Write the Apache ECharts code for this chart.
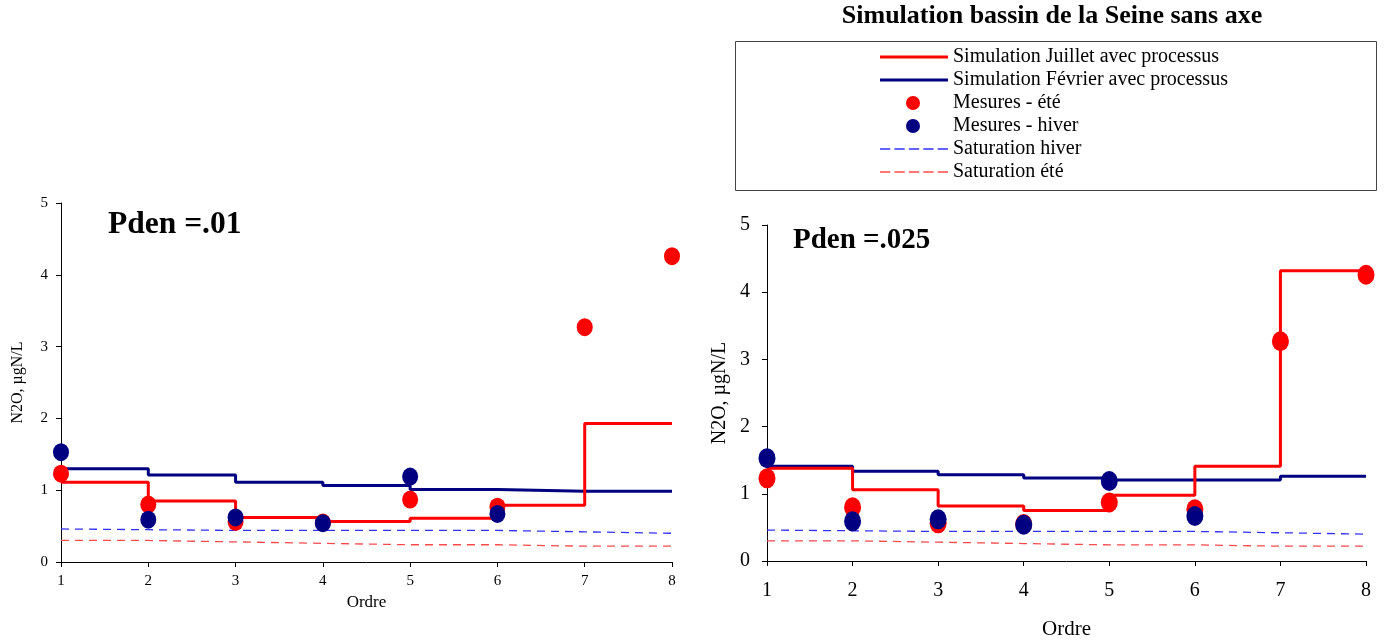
<!DOCTYPE html>
<html>
<head>
<meta charset="utf-8">
<script src="https://cdn.jsdelivr.net/npm/echarts@6/dist/echarts.min.js"></script>
<style>html,body{margin:0;padding:0;background:#fff}#c{width:1386px;height:640px}</style>
</head>
<body>
<div id="c"></div>
<script>
const ordre = [1, 2, 3, 4, 5, 6, 7, 8];
const juillet01 = [1.11, 0.85, 0.62, 0.565, 0.61, 0.79, 1.93, 1.93];
const fevrier01 = [1.30, 1.21, 1.11, 1.065, 1.01, 0.985, 0.985, 0.985];
const juillet025 = [1.38, 1.06, 0.82, 0.75, 0.98, 1.41, 4.32, 4.32];
const fevrier025 = [1.41, 1.335, 1.285, 1.235, 1.205, 1.205, 1.26, 1.26];
const mesuresEte = [1.23, 0.80, 0.56, 0.55, 0.87, 0.77, 3.27, 4.26];
const mesuresHiver = [1.53, 0.59, 0.62, 0.54, 1.19, 0.67, null, null];
const satHiver = [0.46, 0.45, 0.44, 0.44, 0.44, 0.44, 0.42, 0.40];
const satEte = [0.30, 0.30, 0.28, 0.26, 0.24, 0.24, 0.22, 0.22];
const yTicks = [0, 1, 2, 3, 4, 5];

const N_J = 'Simulation Juillet avec processus';
const N_F = 'Simulation Février avec processus';
const N_ME = 'Mesures - été';
const N_MH = 'Mesures - hiver';
const N_SH = 'Saturation hiver';
const N_SE = 'Saturation été';

const FONT = "'Liberation Serif', 'Times New Roman', serif";
const pairs = arr => ordre.map((x, i) => [x, arr[i]]).filter(p => p[1] !== null);

const C_RED = '#ff0000', C_NAVY = '#000080', C_BLUE_D = '#3030ff', C_RED_D = '#ff4a4a';

function xAxisDef(gi, fs, margin, nameGap, nameFs) {
  return {
    type: 'value', gridIndex: gi, min: ordre[0], max: ordre[ordre.length - 1], interval: 1,
    name: 'Ordre', nameLocation: 'middle', nameGap: nameGap,
    nameTextStyle: {fontFamily: FONT, fontSize: nameFs, color: '#000'},
    axisLine: {lineStyle: {color: '#000', width: 1}},
    axisTick: {show: true, length: 5, lineStyle: {color: '#000'}},
    axisLabel: {fontFamily: FONT, fontSize: fs, color: '#000', margin: margin},
    splitLine: {show: false}
  };
}
function yAxisDef(gi, fs, margin, nameGap, nameFs) {
  return {
    type: 'value', gridIndex: gi, min: yTicks[0], max: yTicks[yTicks.length - 1], interval: 1,
    name: 'N2O, µgN/L', nameLocation: 'middle', nameGap: nameGap,
    nameTextStyle: {fontFamily: FONT, fontSize: nameFs, color: '#000'},
    axisLine: {show: true, lineStyle: {color: '#000', width: 1}},
    axisTick: {show: true, length: 5, lineStyle: {color: '#000'}},
    axisLabel: {fontFamily: FONT, fontSize: fs, color: '#000', margin: margin},
    splitLine: {show: false}
  };
}
function seriesFor(gi, jul, fev, dotSize) {
  return [
    {name: N_SH, type: 'line', xAxisIndex: gi, yAxisIndex: gi, data: pairs(satHiver), showSymbol: false, symbol: 'none',
      lineStyle: {color: C_BLUE_D, width: 1.3, type: [8, 6]}, itemStyle: {color: C_BLUE_D}, z: 2},
    {name: N_SE, type: 'line', xAxisIndex: gi, yAxisIndex: gi, data: pairs(satEte), showSymbol: false, symbol: 'none',
      lineStyle: {color: C_RED_D, width: 1.3, type: [8, 6]}, itemStyle: {color: C_RED_D}, z: 2},
    {name: N_F, type: 'line', step: 'end', xAxisIndex: gi, yAxisIndex: gi, data: pairs(fev), showSymbol: false, symbol: 'none',
      lineStyle: {color: C_NAVY, width: 3}, itemStyle: {color: C_NAVY}, z: 3},
    {name: N_J, type: 'line', step: 'end', xAxisIndex: gi, yAxisIndex: gi, data: pairs(jul), showSymbol: false, symbol: 'none',
      lineStyle: {color: C_RED, width: 3}, itemStyle: {color: C_RED}, z: 3},
    {name: N_ME, type: 'scatter', xAxisIndex: gi, yAxisIndex: gi, data: pairs(mesuresEte), symbol: 'circle', symbolSize: dotSize,
      itemStyle: {color: C_RED, opacity: 1}, z: 4},
    {name: N_MH, type: 'scatter', xAxisIndex: gi, yAxisIndex: gi, data: pairs(mesuresHiver), symbol: 'circle', symbolSize: dotSize,
      itemStyle: {color: C_NAVY, opacity: 1}, z: 5}
  ];
}

const dashPath = 'path://M0,0h10v2h-10zM14,0h10v2h-10zM28,0h10v2h-10zM42,0h10v2h-10zM56,0h10v2h-10z';
const legendRows = [
  {name: N_J, cy: 57, icon: 'rect', w: 68, h: 3, left: 880, pad: 0},
  {name: N_F, cy: 80, icon: 'rect', w: 68, h: 3, left: 880, pad: 0},
  {name: N_ME, cy: 103, icon: 'circle', w: 14, h: 17, left: 906, pad: 28},
  {name: N_MH, cy: 126, icon: 'circle', w: 14, h: 17, left: 906, pad: 28},
  {name: N_SH, cy: 149, icon: dashPath, w: 68, h: 1.5, left: 880, pad: 0},
  {name: N_SE, cy: 172, icon: dashPath, w: 68, h: 1.5, left: 880, pad: 0}
];
const legends = legendRows.map(r => ({
  data: [{name: r.name, icon: r.icon}],
  left: r.left, top: r.cy - 11, padding: 0, itemWidth: r.w, itemHeight: r.h,
  symbolKeepAspect: false,
  selectedMode: false,
  textStyle: {fontFamily: FONT, fontSize: 20, color: '#000', padding: [0, 0, 0, r.pad], lineHeight: 22, height: 22}
}));

const chart = echarts.init(document.getElementById('c'), null, {renderer: 'canvas'});
chart.setOption({
  animation: false,
  backgroundColor: '#fff',
  title: [
    {text: 'Simulation bassin de la Seine sans axe', left: 1052, top: 3, textAlign: 'center', padding: 0,
      textStyle: {fontFamily: FONT, fontSize: 26, fontWeight: 'bold', color: '#000'}},
    {text: 'Pden =.01', left: 108, top: 209, padding: 0,
      textStyle: {fontFamily: FONT, fontSize: 31.5, fontWeight: 'bold', color: '#000'}},
    {text: 'Pden =.025', left: 793, top: 226, padding: 0,
      textStyle: {fontFamily: FONT, fontSize: 29, fontWeight: 'bold', color: '#000'}}
  ],
  graphic: [
    {type: 'rect', shape: {x: 735.5, y: 41.5, width: 641, height: 149}, silent: true,
      style: {fill: 'none', stroke: '#444', lineWidth: 1}, z: 0}
  ],
  legend: legends,
  grid: [
    {left: 61, right: 714, top: 203, bottom: 78, outerBoundsMode: 'none', containLabel: false},
    {left: 767, right: 20, top: 225, bottom: 79, outerBoundsMode: 'none', containLabel: false}
  ],
  xAxis: [xAxisDef(0, 15, 12, 31, 17), xAxisDef(1, 20, 20, 58, 21)],
  yAxis: [yAxisDef(0, 15, 13, 35, 16), yAxisDef(1, 20, 17, 37, 20)],
  series: seriesFor(0, juillet01, fevrier01, [16, 18]).concat(seriesFor(1, juillet025, fevrier025, [17, 20]))
});
</script>
</body>
</html>
